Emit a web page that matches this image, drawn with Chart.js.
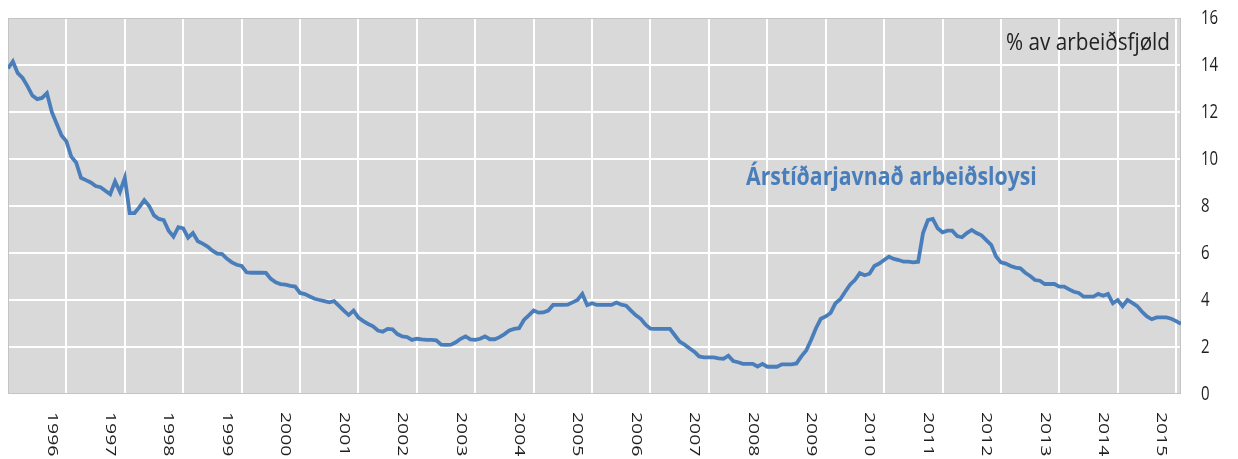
<!DOCTYPE html>
<html>
<head>
<meta charset="utf-8">
<script src="https://cdn.jsdelivr.net/npm/chart.js@4"></script>
<style>
    body { margin: 0; background: #fff; }
    #wrap { width: 1238px; height: 459px; }
</style>
</head>
<body>
<div id="wrap"><canvas id="chart"></canvas></div>
<script>
// Seasonally adjusted unemployment, monthly, April 1995 - May 2015
const startYear = 1995;
const startMonth = 4;

const unemployment = [
    13.85, 14.15, 13.65, 13.45, 13.1, 12.7, 12.55, 12.6, 12.8, 12.0, 11.5, 11.0,
    10.75, 10.1, 9.85, 9.2, 9.1, 9.0, 8.85, 8.8, 8.65, 8.5, 9.05, 8.6,
    9.2, 7.7, 7.7, 7.95, 8.25, 8.0, 7.6, 7.45, 7.4, 6.95, 6.7, 7.1,
    7.05, 6.65, 6.85, 6.5, 6.4, 6.27, 6.1, 5.97, 5.95, 5.75, 5.6, 5.5,
    5.45, 5.18, 5.16, 5.16, 5.16, 5.15, 4.9, 4.75, 4.68, 4.65, 4.6, 4.57,
    4.3, 4.25, 4.15, 4.05, 4.0, 3.95, 3.9, 3.95, 3.75, 3.55, 3.36, 3.55,
    3.25, 3.1, 2.98, 2.88, 2.7, 2.65, 2.77, 2.75, 2.55, 2.45, 2.42, 2.3,
    2.35, 2.32, 2.3, 2.3, 2.28, 2.1, 2.09, 2.1, 2.2, 2.35, 2.45, 2.32,
    2.3, 2.35, 2.45, 2.33, 2.33, 2.42, 2.55, 2.7, 2.77, 2.8, 3.15, 3.35,
    3.55, 3.46, 3.47, 3.55, 3.79, 3.79, 3.79, 3.8, 3.9, 4.0, 4.26, 3.78,
    3.86, 3.79, 3.79, 3.79, 3.79, 3.89, 3.8, 3.76, 3.55, 3.35, 3.2, 2.95,
    2.78, 2.77, 2.77, 2.77, 2.77, 2.5, 2.23, 2.1, 1.95, 1.8, 1.6, 1.56,
    1.56, 1.56, 1.52, 1.5, 1.63, 1.4, 1.35, 1.28, 1.28, 1.28, 1.17, 1.28,
    1.16, 1.16, 1.16, 1.26, 1.26, 1.26, 1.3, 1.6, 1.85, 2.3, 2.8, 3.2,
    3.3, 3.45, 3.86, 4.03, 4.35, 4.65, 4.85, 5.14, 5.05, 5.12, 5.45, 5.55,
    5.7, 5.84, 5.75, 5.7, 5.63, 5.63, 5.6, 5.63, 6.85, 7.4, 7.45, 7.05,
    6.88, 6.95, 6.95, 6.72, 6.67, 6.85, 6.98, 6.85, 6.75, 6.55, 6.35, 5.85,
    5.6, 5.55, 5.45, 5.38, 5.35, 5.16, 5.02, 4.85, 4.82, 4.68, 4.68, 4.68,
    4.57, 4.57, 4.45, 4.35, 4.3, 4.14, 4.14, 4.14, 4.26, 4.18, 4.26, 3.86,
    4.0, 3.74, 4.0, 3.88, 3.74, 3.5, 3.3, 3.18, 3.26, 3.26, 3.26, 3.2,
    3.1, 2.98
];

const years = ['1996', '1997', '1998', '1999', '2000', '2001', '2002', '2003', '2004', '2005',
               '2006', '2007', '2008', '2009', '2010', '2011', '2012', '2013', '2014', '2015'];
const yTicks = [0, 2, 4, 6, 8, 10, 12, 14, 16];

const unitText = '% av arbeiðsfjøld';
const seriesText = 'Árstíðarjavnað arbeiðsloysi';

// month categories, e.g. "1995-04"
const months = unemployment.map((_, i) => {
    const m = startMonth - 1 + i;
    return (startYear + Math.floor(m / 12)) + '-' + String(m % 12 + 1).padStart(2, '0');
});

const FONT = '"Open Sans", sans-serif';
const STRETCH = 1.3;
const lineColor = '#4a7ebb';

function fitSize(ctx, text, weight, width) {
    ctx.font = weight + ' 100px ' + FONT;
    return 100 * width / ctx.measureText(text).width;
}

const decorations = {
    id: 'decorations',
    beforeDraw(chart) {
        const { ctx, chartArea: a } = chart;
        ctx.save();
        ctx.fillStyle = '#d9d9d9';
        ctx.fillRect(a.left, a.top, a.right - a.left, a.bottom - a.top);
        ctx.restore();
    },
    beforeDatasetsDraw(chart) {
        const { ctx, chartArea: a } = chart;
        ctx.save();
        ctx.strokeStyle = '#c4c4c4';
        ctx.lineWidth = 1;
        ctx.strokeRect(a.left + 0.5, a.top + 0.5, a.right - a.left - 1, a.bottom - a.top - 1);
        ctx.restore();
    },
    afterDraw(chart) {
        const { ctx, chartArea: a } = chart;
        const xs = chart.scales.x, ys = chart.scales.y;
        ctx.save();

        // right axis labels
        ctx.fillStyle = '#1f1f1f';
        ctx.font = '15px ' + FONT;
        ctx.textAlign = 'left';
        ctx.textBaseline = 'middle';
        ys.ticks.forEach(t => {
            ctx.save();
            ctx.translate(a.right + 20, ys.getPixelForValue(t.value));
            ctx.scale(1, STRETCH);
            ctx.fillText(String(t.value), 0, 0);
            ctx.restore();
        });

        // year labels, rotated to read top-down
        ctx.fillStyle = '#1f1f1f';
        ctx.font = '14.5px ' + FONT;
        years.forEach(y => {
            const idx = months.indexOf(y + '-01');
            ctx.save();
            ctx.translate(xs.getPixelForValue(idx), a.bottom + 18);
            ctx.rotate(Math.PI / 2);
            ctx.scale(1.34, 1);
            ctx.fillText(y, 0, 0);
            ctx.restore();
        });

        // unit note, top right
        let size = fitSize(ctx, unitText, 'normal', 164);
        ctx.font = size + 'px ' + FONT;
        ctx.fillStyle = '#222';
        ctx.textAlign = 'right';
        ctx.save();
        ctx.translate(a.right - 11, a.top + 26);
        ctx.scale(1, 1.1);
        ctx.fillText(unitText, 0, 0);
        ctx.restore();

        // series label
        size = fitSize(ctx, seriesText, 'bold', 291);
        ctx.font = 'bold ' + size + 'px ' + FONT;
        ctx.fillStyle = lineColor;
        ctx.textAlign = 'left';
        ctx.save();
        ctx.translate(746, 178);
        ctx.scale(1, 1.15);
        ctx.fillText(seriesText, 0, 0);
        ctx.restore();

        ctx.restore();
    }
};

new Chart(document.getElementById('chart'), {
    type: 'line',
    data: {
        datasets: [{
            label: seriesText,
            data: unemployment.map((v, i) => ({ x: i, y: v })),
            borderColor: lineColor,
            borderWidth: 3.8,
            pointRadius: 0,
            tension: 0,
            fill: false
        }]
    },
    options: {
        responsive: true,
        maintainAspectRatio: false,
        animation: false,
        layout: { padding: { left: 8, top: 18, right: 0, bottom: 0 } },
        plugins: {
            legend: { display: false },
            tooltip: { enabled: false }
        },
        scales: {
            x: {
                type: 'linear',
                min: 0,
                max: months.length - 1,
                afterBuildTicks: s => {
                    s.ticks = months
                        .map((m, i) => i)
                        .filter(i => i % 12 === 0)
                        .map(i => ({ value: i }));
                },
                afterFit: s => { s.height = 65; },
                ticks: { display: false },
                grid: { color: '#ffffff', lineWidth: 2, drawTicks: false },
                border: { display: false }
            },
            y: {
                position: 'right',
                min: 0,
                max: 16,
                afterBuildTicks: s => {
                    s.ticks = yTicks.map(v => ({ value: v }));
                },
                afterFit: s => { s.width = 57; },
                ticks: { display: false },
                grid: { color: '#ffffff', lineWidth: 2, drawTicks: false },
                border: { display: false }
            }
        }
    },
    plugins: [decorations]
});
</script>
</body>
</html>
